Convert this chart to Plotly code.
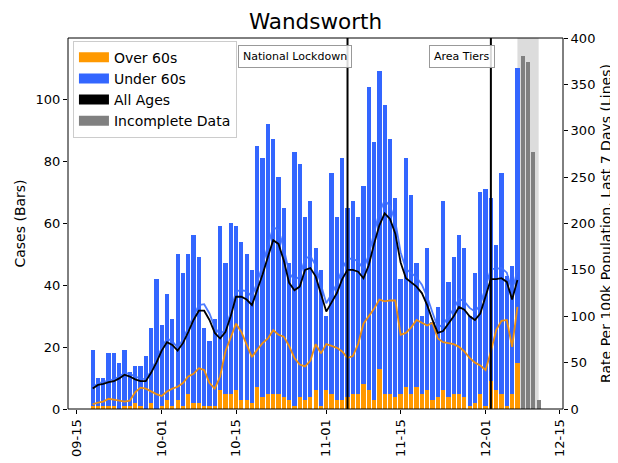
import pandas as pd
import plotly.graph_objects as go

# daily cases, 2020-09-18 .. 2020-12-07
start_date = "2020-09-18"
over_60 = [1, 1, 1, 1, 1, 0, 1, 1, 2, 1,
           0, 2, 0, 1, 3, 1, 3, 1, 5, 2,
           2, 1, 1, 1, 6, 5, 5, 6, 3, 3,
           2, 7, 4, 5, 5, 5, 4, 3, 1, 4,
           3, 4, 6, 1, 6, 5, 3, 3, 4, 5,
           5, 8, 6, 3, 13, 5, 5, 4, 5, 7,
           5, 7, 5, 6, 3, 4, 6, 4, 5, 5,
           4, 1, 2, 5, 1, 9, 6, 5, 1, 5,
           15]
under_60 = [18, 9, 9, 17, 17, 15, 18, 11, 12, 13,
            17, 24, 42, 26, 34, 28, 47, 43, 45, 54,
            47, 25, 21, 28, 53, 42, 55, 53, 51, 47,
            43, 78, 77, 87, 82, 70, 61, 44, 82, 75,
            59, 63, 46, 44, 24, 71, 59, 78, 61, 62,
            57, 64, 98, 83, 96, 93, 82, 64, 37, 74,
            64, 40, 25, 46, 25, 29, 61, 37, 44, 51,
            48, 29, 42, 65, 70, 59, 47, 71, 42, 41,
            95]

# incomplete days, 2020-12-08 .. 2020-12-11
incomplete_start = "2020-12-08"
incomplete = [114, 112, 83, 3]

# 7-day rate per 100k population
rate_all = [22, 26, 27, 29, 30, 33, 37, 35, 32, 30,
            30, 39, 50, 63, 72, 69, 63, 71, 83, 96,
            106, 106, 96, 82, 76, 83, 100, 121, 121, 118,
            112, 128, 145, 164, 182, 178, 160, 136, 128, 132,
            150, 152, 143, 124, 105, 115, 125, 140, 150, 150,
            148, 141, 155, 178, 198, 211, 205, 189, 158, 141,
            136, 132, 125, 112, 96, 82, 84, 92, 100, 110,
            107, 100, 96, 103, 121, 140, 140, 141, 137, 118, 139]
rate_under_60 = [23, 28, 29, 31, 32, 35, 39, 38, 35, 33,
                 32, 41, 53, 66, 76, 73, 66, 75, 88, 101,
                 112, 113, 103, 88, 80, 86, 104, 127, 128, 127,
                 121, 137, 155, 176, 196, 193, 173, 147, 139, 143,
                 162, 165, 155, 134, 114, 124, 135, 151, 162, 162,
                 159, 151, 166, 190, 212, 225, 219, 202, 169, 151,
                 146, 142, 134, 121, 104, 88, 91, 99, 108, 119,
                 116, 109, 105, 112, 131, 151, 151, 152, 147, 127, 150]
rate_over_60 = [5, 7, 8, 11, 10, 9, 8, 9, 18, 23,
                22, 19, 16, 14, 19, 22, 24, 28, 35, 38,
                44, 42, 28, 22, 35, 62, 76, 92, 83, 69,
                56, 64, 71, 76, 85, 80, 78, 68, 55, 48,
                46, 52, 70, 60, 70, 68, 66, 62, 55, 57,
                70, 92, 100, 108, 118, 116, 117, 117, 80, 82,
                88, 96, 93, 90, 93, 76, 72, 71, 70, 67,
                62, 55, 50, 47, 42, 62, 85, 95, 96, 67, 110]

events = [("2020-11-05", "National Lockdown"), ("2020-12-02", "Area Tiers")]
tick_dates = ["2020-09-15", "2020-10-01", "2020-10-15", "2020-11-01",
              "2020-11-15", "2020-12-01", "2020-12-15"]

ORANGE = "#ff9900"
BLUE = "#3366ff"
GREY = "#808080"
FONT = "DejaVu Sans"

days = pd.date_range(start_date, periods=len(over_60))
inc_days = pd.date_range(incomplete_start, periods=len(incomplete))

fig = go.Figure()

fig.add_trace(go.Bar(x=days, y=over_60, marker=dict(color=ORANGE, line_width=0),
                     showlegend=False))
fig.add_trace(go.Bar(x=days, y=under_60, marker=dict(color=BLUE, line_width=0),
                     showlegend=False))
fig.add_trace(go.Bar(x=inc_days, y=incomplete, marker=dict(color=GREY, line_width=0),
                     showlegend=False))

fig.add_trace(go.Scatter(x=days, y=rate_under_60, mode="lines", yaxis="y2",
                         line=dict(color="rgba(60,110,255,0.9)", width=1.8),
                         showlegend=False))
fig.add_trace(go.Scatter(x=days, y=rate_over_60, mode="lines", yaxis="y2",
                         line=dict(color="#ee9010", width=1.8),
                         showlegend=False))
fig.add_trace(go.Scatter(x=days, y=rate_all, mode="lines", yaxis="y2",
                         line=dict(color="black", width=1.8),
                         showlegend=False))

# legend patches
for name, col in [("Over 60s", ORANGE), ("Under 60s", BLUE),
                  ("All Ages", "black"), ("Incomplete Data", GREY)]:
    fig.add_trace(go.Scatter(x=[None], y=[None], mode="lines", name=name,
                             legendgroup=name, yaxis="y2",
                             line=dict(color=col, width=10)))

# incomplete data shading
fig.add_shape(type="rect", xref="x", yref="paper",
              x0=days[-1], x1=inc_days[-1], y0=0, y1=1,
              fillcolor="#dcdcdc", line_width=0, layer="below")

for d, label in events:
    fig.add_shape(type="line", xref="x", yref="paper", x0=d, x1=d, y0=0, y1=1,
                  line=dict(color="black", width=2), layer="above")
    fig.add_annotation(x=d, y=1, xref="x", yref="paper", text=label,
                       showarrow=False, xanchor="right", yanchor="top",
                       xshift=4, yshift=-7,
                       font=dict(family=FONT, size=11, color="black"),
                       bgcolor="rgba(255,255,255,0.85)", bordercolor="#999999",
                       borderwidth=1, borderpad=4)

# plot frame
fig.add_shape(type="rect", xref="paper", yref="paper", x0=0, x1=1, y0=0, y1=1,
              line=dict(color="black", width=1), fillcolor="rgba(0,0,0,0)",
              layer="above")

axis_common = dict(ticks="outside", ticklen=4, tickcolor="black",
                   showgrid=False, zeroline=False, automargin=False,
                   tickfont=dict(family=FONT, size=13))

# page body adds an 8px offset, so the figure is 8px smaller than the window
fig.update_layout(
    width=610, height=455,
    margin=dict(l=60, r=55, t=30, b=54),
    paper_bgcolor="white", plot_bgcolor="white",
    font=dict(family=FONT, size=13, color="black"),
    title=dict(text="Wandsworth", x=0.5, xref="paper", xanchor="center",
               y=1 - 13 / 455, yanchor="middle",
               font=dict(family=FONT, size=21.5, color="black")),
    barmode="stack", bargap=0.2,
    showlegend=True,
    legend=dict(x=0.01, y=0.993, xanchor="left", yanchor="top",
                bgcolor="rgba(255,255,255,0.8)", bordercolor="#cccccc",
                borderwidth=1, tracegroupgap=0,
                font=dict(family=FONT, size=14)),
    xaxis=dict(type="date", range=["2020-09-13 08:30", "2020-12-15 14:00"],
               tickvals=tick_dates, tickformat="%m-%d", tickangle=-90,
               **axis_common),
    yaxis=dict(title=dict(text="Cases (Bars)", standoff=6,
                          font=dict(family=FONT, size=14)),
               range=[0, 119.7], tickvals=[0, 20, 40, 60, 80, 100],
               **axis_common),
    yaxis2=dict(title=dict(text="Rate Per 100k Population, Last 7 Days (Lines)",
                           standoff=6, font=dict(family=FONT, size=14)),
                overlaying="y", side="right", range=[0, 400],
                tickvals=[0, 50, 100, 150, 200, 250, 300, 350, 400],
                **axis_common),
)

fig.write_html("out.html")
